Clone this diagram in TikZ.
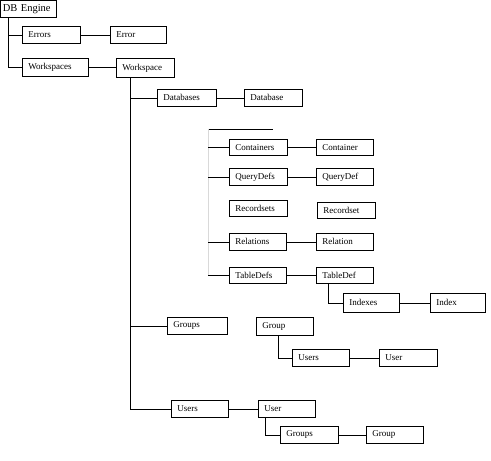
\documentclass[tikz,border=0pt]{standalone}
\usepackage{fontspec}
\setmainfont{Liberation Serif}
\begin{document}
\begin{tikzpicture}[x=1pt,y=-1pt,
  box/.style={draw,line width=0.8pt,anchor=north west,inner xsep=6pt,inner ysep=0pt,align=left,font=\fontsize{9}{10}\selectfont},
  conn/.style={line width=0.8pt}]
\useasboundingbox (0,0) rectangle (491,461);
\newcommand\bx[6]{\node[box,minimum width=#4-#2,minimum height=#5-#3,text width=#4-#2-12] (#1) at (#2,#3) {#6};}
\node[box,minimum width=56,minimum height=17,text width=52,inner xsep=2pt,font=\fontsize{10.5}{11}\selectfont] (dbe) at (0.4,0.4) {DB Engine};
\bx{errs}{22}{26}{80}{43}{Errors}
\bx{err}{110}{26}{166}{43}{Error}
\bx{wss}{22}{58}{88}{76}{Workspaces}
\bx{ws}{116}{58}{174}{77}{Workspace}
\bx{dbs}{157}{89}{216}{106}{Databases}
\bx{db}{244}{89}{302}{106}{Database}
\bx{cons}{229}{139}{287}{155}{Containers}
\bx{con}{316}{139}{373}{155}{Container}
\bx{qds}{229}{168}{287}{185}{QueryDefs}
\bx{qd}{316}{168}{373}{185}{QueryDef}
\bx{rss}{229}{200}{287}{216}{Recordsets}
\bx{rs}{317}{202}{375}{218}{Recordset}
\bx{rels}{229}{233}{286}{250}{Relations}
\bx{rel}{316}{233}{373}{250}{Relation}
\bx{tds}{229}{267}{286}{283}{TableDefs}
\bx{td}{316}{267}{373}{283}{TableDef}
\bx{idxs}{343}{293}{399}{312}{Indexes}
\bx{idx}{430}{293}{485}{312}{Index}
\bx{grps}{167}{317}{227}{334}{Groups}
\bx{grp}{256}{317}{313}{335}{Group}
\bx{gusers}{292}{349}{349}{366}{Users}
\bx{guser}{379}{349}{437}{366}{User}
\bx{users}{171}{400}{228}{417}{Users}
\bx{user}{258}{400}{315}{417}{User}
\bx{ugroups}{280}{426}{338}{443}{Groups}
\bx{ugroup}{366}{426}{423}{443}{Group}
% connectors
\draw[conn] ([xshift=8pt]dbe.south west) |- (errs.west);
\draw[conn] ([xshift=8pt]dbe.south west) |- (wss.west);
\draw[conn] (errs.east) -- (err.west);
\draw[conn] (wss.east) -- (wss.east -| ws.west);
\draw[conn] ([xshift=14pt]ws.south west) |- (dbs.west);
\draw[conn] ([xshift=14pt]ws.south west) |- (grps.west);
\draw[conn] ([xshift=14pt]ws.south west) |- (users.west);
\draw[conn] (dbs.east) -- (db.west);
\coordinate (it) at (208,129);
\coordinate (itend) at (273,129);
\draw[conn] (it) -- (itend);
\draw[line width=0.5pt,black!15] (it) -- (it |- tds.west);
\foreach \n in {cons,qds,rels,tds}{\draw[conn] (\n.west -| it) -- (\n.west);}
\draw[conn] (cons.east) -- (con.west);
\draw[conn] (qds.east) -- (qd.west);
\draw[conn] (rels.east) -- (rel.west);
\draw[conn] (tds.east) -- (td.west);
\draw[conn] ([xshift=12pt]td.south west) |- (idxs.west);
\draw[conn] (idxs.east) -- (idx.west);
\draw[conn] ([xshift=22pt]grp.south west) |- (gusers.west);
\draw[conn] (gusers.east) -- (guser.west);
\draw[conn] (users.east) -- (user.west);
\draw[conn] ([xshift=7pt]user.south west) |- (ugroups.west);
\draw[conn] (ugroups.east) -- (ugroup.west);
\end{tikzpicture}
\end{document}
